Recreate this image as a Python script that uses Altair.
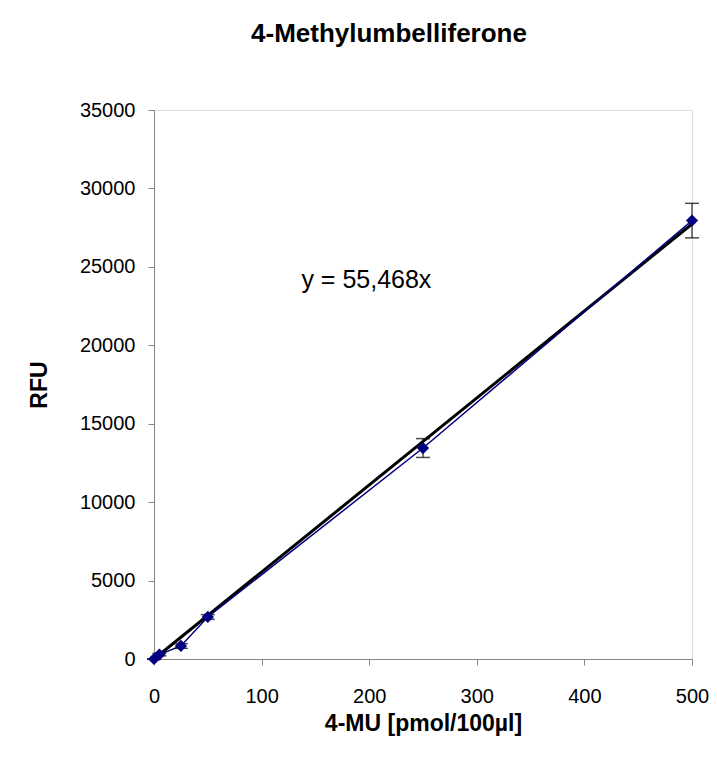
import altair as alt
import pandas as pd

# data
conc = [0, 5, 25, 50, 250, 500]
rfu = [0, 280, 830, 2680, 13450, 27950]
err = [20, 80, 150, 150, 600, 1100]
slope = 55.468
trend_x = [0, 500]
equation = "y = 55,468x"

df = pd.DataFrame({"x": conc, "y": rfu, "lo": [a - b for a, b in zip(rfu, err)],
                   "hi": [a + b for a, b in zip(rfu, err)]})
tdf = pd.DataFrame({"x": trend_x, "y": [slope * v for v in trend_x]})
adf = pd.DataFrame({"x": [137], "y": [24150], "t": [equation]})

xs = alt.Scale(domain=[0, 500], nice=False, zero=True)
ys = alt.Scale(domain=[0, 35000], nice=False)

xax = alt.Axis(values=[0, 100, 200, 300, 400, 500], title="4-MU [pmol/100µl]",
               grid=False, labelFontSize=20, titleFontSize=23, titleFontWeight="bold",
               domainColor="#868686", tickColor="#868686", tickSize=6, labelPadding=21,
               titlePadding=6, labelColor="black", titleColor="black", labelFlush=False,
               format="d")
yax = alt.Axis(values=list(range(0, 35001, 5000)), title="RFU", grid=False,
               labelFontSize=20, titleFontSize=23, titleFontWeight="bold",
               domainColor="#868686", tickColor="#868686", tickSize=6, labelPadding=13,
               titlePadding=28, labelColor="black", titleColor="black", format="d")

base = alt.Chart(df)

trend = alt.Chart(tdf).mark_line(color="black", strokeWidth=3).encode(
    x=alt.X("x:Q", scale=xs, axis=xax), y=alt.Y("y:Q", scale=ys, axis=yax))
line = base.mark_line(color="#000080", strokeWidth=1.5).encode(
    x=alt.X("x:Q", scale=xs), y=alt.Y("y:Q", scale=ys))
bars = base.mark_rule(color="black", strokeWidth=1).encode(
    x="x:Q", y="lo:Q", y2="hi:Q")
cap_lo = base.mark_tick(color="black", orient="horizontal", size=14, thickness=1.5).encode(
    x="x:Q", y="lo:Q")
cap_hi = base.mark_tick(color="black", orient="horizontal", size=14, thickness=1.5).encode(
    x="x:Q", y="hi:Q")
pts = base.mark_point(shape="diamond", filled=True, size=150, color="#000080", opacity=1).encode(
    x="x:Q", y="y:Q")
txt = alt.Chart(adf).mark_text(align="left", baseline="middle", fontSize=25,
                               font="Liberation Sans", color="black").encode(
    x="x:Q", y="y:Q", text="t:N")

chart = alt.layer(trend, line, bars, cap_lo, cap_hi, pts, txt).properties(
    width=538, height=549,
    title=alt.TitleParams("4-Methylumbelliferone", fontSize=26, fontWeight="bold",
                          font="Liberation Sans", color="black", anchor="middle",
                          offset=53, dx=-34),
    autosize=alt.AutoSizeParams(type="none"),
    padding={"left": 146, "top": 102, "right": 17, "bottom": 95},
).configure_view(stroke=None).configure(font="Liberation Sans")

chart.save("out.html", embed_options={"renderer": "svg", "actions": False})
